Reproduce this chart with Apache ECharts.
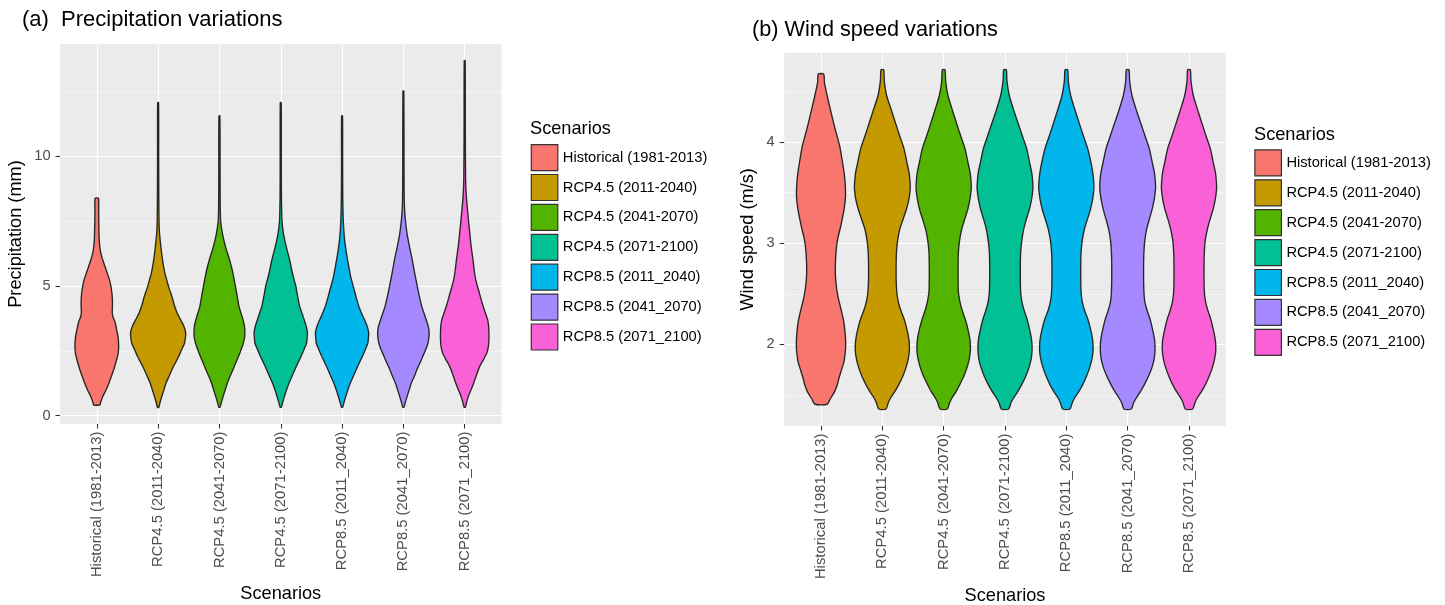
<!DOCTYPE html>
<html><head><meta charset="utf-8">
<script src="https://cdn.jsdelivr.net/npm/echarts@6/dist/echarts.min.js"></script>
<style>html,body{margin:0;padding:0;background:#fff}#c{width:1445px;height:605px}</style>
</head><body><div id="c"></div>
<script>
// ---- categories / tick labels ----
const categories = ['Historical (1981-2013)','RCP4.5 (2011-2040)','RCP4.5 (2041-2070)','RCP4.5 (2071-2100)','RCP8.5 (2011_2040)','RCP8.5 (2041_2070)','RCP8.5 (2071_2100)'];
const precipTicks = [0, 5, 10];
const windTicks = [2, 3, 4];

// ---- violin outlines: [value, full width as share of one category slot] ----
const precipHistorical = [[0.42,0.11],[0.5,0.12],[0.75,0.2],[1.01,0.31],[1.27,0.40],[1.53,0.48],[1.8,0.56],[2.04,0.62],[2.3,0.68],[2.55,0.71],[2.8,0.71],[3.06,0.69],[3.3,0.65],[3.58,0.60],[3.8,0.53],[3.96,0.505],[4.2,0.51],[4.47,0.51],[4.75,0.49],[4.99,0.46],[5.25,0.41],[5.49,0.34],[5.8,0.25],[6.13,0.16],[6.4,0.11],[6.77,0.08],[7.5,0.065],[8.0,0.06],[8.37,0.055]];
const precipRcp45a = [[0.32,0.02],[0.5,0.06],[0.74,0.12],[1.0,0.19],[1.26,0.26],[1.5,0.35],[1.77,0.45],[2.03,0.56],[2.28,0.67],[2.55,0.77],[2.79,0.86],[3.0,0.89],[3.18,0.90],[3.44,0.84],[3.7,0.73],[3.95,0.62],[4.25,0.53],[4.59,0.45],[4.9,0.36],[5.23,0.28],[5.55,0.21],[5.87,0.16],[6.2,0.12],[6.5,0.09],[7.03,0.045],[7.5,0.03],[8.5,0.022],[10,0.018],[12.05,0.015]];
const precipRcp45b = [[0.33,0.02],[0.5,0.06],[0.74,0.12],[1.0,0.19],[1.26,0.26],[1.5,0.34],[1.77,0.44],[2.03,0.53],[2.28,0.62],[2.55,0.71],[2.79,0.78],[3.0,0.82],[3.18,0.83],[3.4,0.82],[3.56,0.80],[3.85,0.73],[4.2,0.64],[4.6,0.58],[5.0,0.52],[5.3,0.47],[5.6,0.42],[6.0,0.33],[6.5,0.20],[7.0,0.10],[7.5,0.04],[8.2,0.025],[9.5,0.02],[11.54,0.015]];
const precipRcp45c = [[0.33,0.02],[0.5,0.06],[0.74,0.12],[1.0,0.19],[1.26,0.27],[1.5,0.36],[1.77,0.46],[2.03,0.56],[2.28,0.66],[2.55,0.76],[2.79,0.84],[3.0,0.86],[3.18,0.87],[3.4,0.84],[3.56,0.80],[3.85,0.72],[4.2,0.62],[4.6,0.55],[5.0,0.49],[5.3,0.42],[5.6,0.36],[6.0,0.29],[6.5,0.18],[7.0,0.09],[7.5,0.04],[8.5,0.022],[10,0.018],[12.05,0.015]];
const precipRcp85a = [[0.33,0.02],[0.5,0.06],[0.74,0.12],[1.0,0.19],[1.26,0.27],[1.5,0.36],[1.77,0.46],[2.03,0.56],[2.28,0.66],[2.55,0.76],[2.79,0.84],[3.0,0.86],[3.18,0.87],[3.4,0.83],[3.56,0.78],[3.85,0.67],[4.2,0.55],[4.6,0.45],[5.0,0.36],[5.3,0.29],[5.6,0.24],[6.2,0.15],[6.8,0.08],[7.5,0.04],[8.5,0.022],[10,0.018],[11.54,0.015]];
const precipRcp85b = [[0.33,0.02],[0.5,0.06],[0.74,0.12],[1.0,0.19],[1.26,0.26],[1.5,0.35],[1.77,0.44],[2.03,0.54],[2.28,0.63],[2.55,0.73],[2.79,0.80],[3.0,0.83],[3.18,0.84],[3.4,0.82],[3.56,0.78],[3.85,0.70],[4.2,0.60],[4.6,0.52],[5.0,0.45],[5.3,0.40],[5.6,0.35],[6.0,0.29],[6.5,0.20],[7.0,0.12],[7.6,0.06],[8.2,0.03],[9.5,0.02],[12.5,0.015]];
const precipRcp85c = [[0.33,0.02],[0.6,0.08],[0.87,0.16],[1.12,0.25],[1.38,0.33],[1.65,0.41],[1.90,0.49],[2.15,0.61],[2.41,0.72],[2.65,0.77],[2.92,0.79],[3.2,0.79],[3.44,0.78],[3.69,0.75],[4.0,0.66],[4.33,0.57],[4.8,0.46],[5.23,0.36],[5.6,0.31],[6.0,0.27],[6.52,0.21],[7.2,0.15],[7.8,0.10],[8.5,0.05],[9.08,0.03],[11,0.02],[13.67,0.015]];

const windHistorical = [[1.408,0.196],[1.46,0.30],[1.53,0.44],[1.6,0.53],[1.67,0.59],[1.75,0.67],[1.83,0.75],[1.92,0.79],[2.0,0.805],[2.1,0.79],[2.23,0.74],[2.35,0.65],[2.45,0.57],[2.55,0.51],[2.68,0.47],[2.8,0.47],[2.95,0.50],[3.05,0.55],[3.15,0.63],[3.25,0.70],[3.35,0.76],[3.47,0.80],[3.58,0.79],[3.68,0.76],[3.8,0.70],[3.96,0.61],[4.13,0.46],[4.29,0.33],[4.46,0.20],[4.59,0.11],[4.671,0.088]];
const windRcp45a = [[1.361,0.12],[1.42,0.19],[1.47,0.27],[1.53,0.40],[1.6,0.53],[1.68,0.66],[1.76,0.76],[1.85,0.84],[1.93,0.88],[2.0,0.88],[2.06,0.86],[2.15,0.80],[2.25,0.71],[2.33,0.61],[2.42,0.52],[2.52,0.47],[2.65,0.45],[2.78,0.45],[2.91,0.46],[3.03,0.50],[3.14,0.57],[3.24,0.68],[3.34,0.79],[3.44,0.87],[3.54,0.91],[3.62,0.90],[3.70,0.87],[3.80,0.80],[3.93,0.71],[4.03,0.60],[4.13,0.49],[4.30,0.31],[4.46,0.14],[4.6,0.065],[4.715,0.042]];
const windRcp45b = [[1.361,0.12],[1.42,0.19],[1.47,0.27],[1.53,0.40],[1.6,0.52],[1.68,0.65],[1.76,0.75],[1.85,0.83],[1.93,0.87],[2.0,0.87],[2.06,0.85],[2.15,0.79],[2.25,0.70],[2.33,0.61],[2.42,0.53],[2.52,0.48],[2.65,0.47],[2.78,0.47],[2.91,0.48],[3.03,0.52],[3.14,0.59],[3.24,0.69],[3.34,0.79],[3.44,0.86],[3.54,0.90],[3.62,0.89],[3.70,0.86],[3.80,0.79],[3.93,0.70],[4.03,0.59],[4.13,0.48],[4.30,0.30],[4.46,0.14],[4.6,0.065],[4.715,0.042]];
const windRcp45c = [[1.361,0.12],[1.42,0.19],[1.47,0.28],[1.53,0.41],[1.6,0.54],[1.68,0.67],[1.76,0.77],[1.85,0.85],[1.93,0.88],[2.0,0.88],[2.06,0.86],[2.15,0.80],[2.25,0.72],[2.33,0.63],[2.42,0.55],[2.52,0.51],[2.65,0.50],[2.78,0.50],[2.91,0.51],[3.03,0.55],[3.14,0.61],[3.24,0.70],[3.34,0.80],[3.44,0.87],[3.54,0.91],[3.62,0.90],[3.70,0.87],[3.80,0.80],[3.93,0.71],[4.03,0.60],[4.13,0.49],[4.30,0.30],[4.46,0.14],[4.6,0.065],[4.715,0.042]];
const windRcp85a = [[1.361,0.12],[1.42,0.19],[1.47,0.27],[1.53,0.40],[1.6,0.53],[1.68,0.65],[1.76,0.75],[1.85,0.83],[1.93,0.87],[2.0,0.87],[2.06,0.85],[2.15,0.79],[2.25,0.70],[2.33,0.60],[2.42,0.52],[2.52,0.48],[2.65,0.47],[2.78,0.47],[2.91,0.48],[3.03,0.52],[3.14,0.59],[3.24,0.69],[3.34,0.79],[3.44,0.86],[3.54,0.90],[3.62,0.89],[3.70,0.86],[3.80,0.80],[3.93,0.70],[4.03,0.59],[4.13,0.48],[4.30,0.30],[4.46,0.14],[4.6,0.065],[4.715,0.042]];
const windRcp85b = [[1.361,0.12],[1.42,0.19],[1.47,0.28],[1.53,0.41],[1.6,0.54],[1.68,0.67],[1.76,0.78],[1.85,0.86],[1.93,0.89],[2.0,0.89],[2.06,0.87],[2.15,0.81],[2.25,0.73],[2.33,0.64],[2.42,0.56],[2.52,0.53],[2.65,0.52],[2.78,0.52],[2.91,0.53],[3.03,0.56],[3.14,0.62],[3.24,0.71],[3.34,0.80],[3.44,0.87],[3.54,0.91],[3.62,0.90],[3.70,0.87],[3.80,0.80],[3.93,0.71],[4.03,0.60],[4.13,0.49],[4.30,0.30],[4.46,0.14],[4.6,0.065],[4.715,0.042]];
const windRcp85c = [[1.361,0.12],[1.42,0.19],[1.47,0.27],[1.53,0.40],[1.6,0.53],[1.68,0.65],[1.76,0.75],[1.85,0.83],[1.93,0.87],[2.0,0.87],[2.06,0.85],[2.15,0.79],[2.25,0.71],[2.33,0.62],[2.42,0.54],[2.52,0.50],[2.65,0.49],[2.78,0.49],[2.91,0.50],[3.03,0.53],[3.14,0.60],[3.24,0.69],[3.34,0.79],[3.44,0.86],[3.54,0.90],[3.62,0.89],[3.70,0.86],[3.80,0.79],[3.93,0.70],[4.03,0.59],[4.13,0.48],[4.30,0.30],[4.46,0.14],[4.6,0.065],[4.715,0.042]];

const precipProfiles = [precipHistorical, precipRcp45a, precipRcp45b, precipRcp45c, precipRcp85a, precipRcp85b, precipRcp85c];
const windProfiles = [windHistorical, windRcp45a, windRcp45b, windRcp45c, windRcp85a, windRcp85b, windRcp85c];

// ---- styles ----
const fillColors = ['#F8766D','#C49A00','#53B400','#00C094','#00B6EB','#A58AFF','#FB61D7'];
const FONT = "'Liberation Sans', Arial, Helvetica, sans-serif";
const catIndex = categories.map((c, i) => i);

function violinSeries(profiles, g) {
  return profiles.map((prof, i) => ({
    type: 'custom', name: categories[i], xAxisIndex: g, yAxisIndex: g,
    itemStyle: { color: fillColors[i], borderColor: '#333333', borderWidth: 1 },
    data: [[catIndex[i], prof[0][0], prof[prof.length - 1][0]]],
    encode: { x: 0, y: [1, 2] },
    renderItem: function (params, api) {
      const x = api.value(0);
      const left = prof.map(p => api.coord([x - p[1] / 2, p[0]]));
      const right = prof.map(p => api.coord([x + p[1] / 2, p[0]])).reverse();
      return {
        type: 'polygon',
        shape: { points: left.concat(right), smooth: 0.25 },
        style: { fill: fillColors[i], stroke: '#262626', lineWidth: 1.35 }
      };
    }
  }));
}

function xAxisCfg(g, gap) {
  return {
    type: 'value', gridIndex: g, min: -0.6, max: 6.6,
    name: 'Scenarios', nameLocation: 'middle', nameGap: gap,
    nameTextStyle: { fontSize: 18.2, color: '#000', fontFamily: FONT },
    axisLine: { show: false, onZero: false },
    axisTick: { show: true, length: 4.5, customValues: catIndex, lineStyle: { color: '#333', width: 1.1 } },
    axisLabel: { rotate: 90, margin: 7.5, fontSize: 14.8, color: '#4D4D4D', fontFamily: FONT,
      customValues: catIndex, formatter: v => (categories[Math.round(v)] || '') },
    splitLine: { show: true, lineStyle: { color: '#FFFFFF', width: 1.1 } },
    minorSplitLine: { show: false }
  };
}
function yAxisCfg(g, min, max, ticks, split, name, gap) {
  return {
    type: 'value', gridIndex: g, min: min, max: max, splitNumber: split,
    name: name, nameLocation: 'middle', nameGap: gap, nameRotate: 90,
    nameTextStyle: { fontSize: 18.2, color: '#000', fontFamily: FONT },
    axisLine: { show: false, onZero: false },
    axisTick: { show: true, length: 4.5, customValues: ticks, lineStyle: { color: '#333', width: 1.1 } },
    axisLabel: { margin: 9.5, fontSize: 14.6, color: '#4D4D4D', fontFamily: FONT, customValues: ticks },
    splitLine: { show: true, lineStyle: { color: '#FFFFFF', width: 1.1 } },
    minorTick: { show: false, splitNumber: 2 },
    minorSplitLine: { show: true, lineStyle: { color: '#FFFFFF', width: 0.55 } }
  };
}
function legendCfg(left, top) {
  return {
    orient: 'vertical', left: left, top: top, padding: 0,
    itemWidth: 26.5, itemHeight: 26, itemGap: 2.7, icon: 'rect', selectedMode: false,
    data: categories,
    itemStyle: { borderColor: '#333333', borderWidth: 1.2 },
    textStyle: { fontSize: 14.7, color: '#000', fontFamily: FONT }
  };
}
const titleStyle = (s) => ({ fontSize: s, fontWeight: 'normal', color: '#000', fontFamily: FONT });

const chart = echarts.init(document.getElementById('c'), null, { renderer: 'canvas' });
chart.setOption({
  animation: false,
  backgroundColor: '#FFFFFF',
  title: [
    { text: '(a)  Precipitation variations', left: 22, top: 9, padding: 0, textStyle: titleStyle(22) },
    { text: '(b) Wind speed variations', left: 752, top: 19, padding: 0, textStyle: titleStyle(21.7) },
    { text: 'Scenarios', left: 530, top: 119.5, padding: 0, textStyle: titleStyle(18.2) },
    { text: 'Scenarios', left: 1254, top: 126, padding: 0, textStyle: titleStyle(18.2) }
  ],
  legend: [legendCfg(530.7, 144), legendCfg(1254.3, 149.3)],
  grid: [
    { left: 60, top: 44, width: 441.5, height: 380, show: true, backgroundColor: '#EBEBEB', borderWidth: 0, containLabel: false, outerBoundsMode: 'none' },
    { left: 784.2, top: 52.7, width: 441.6, height: 373.3, show: true, backgroundColor: '#EBEBEB', borderWidth: 0, containLabel: false, outerBoundsMode: 'none' }
  ],
  xAxis: [xAxisCfg(0, 158), xAxisCfg(1, 155)],
  yAxis: [
    yAxisCfg(0, -0.32, 14.31, precipTicks, 3, 'Precipitation (mm)', 35),
    yAxisCfg(1, 1.193, 4.883, windTicks, 4, 'Wind speed (m/s)', 27)
  ],
  series: violinSeries(precipProfiles, 0).concat(violinSeries(windProfiles, 1))
});
</script></body></html>
